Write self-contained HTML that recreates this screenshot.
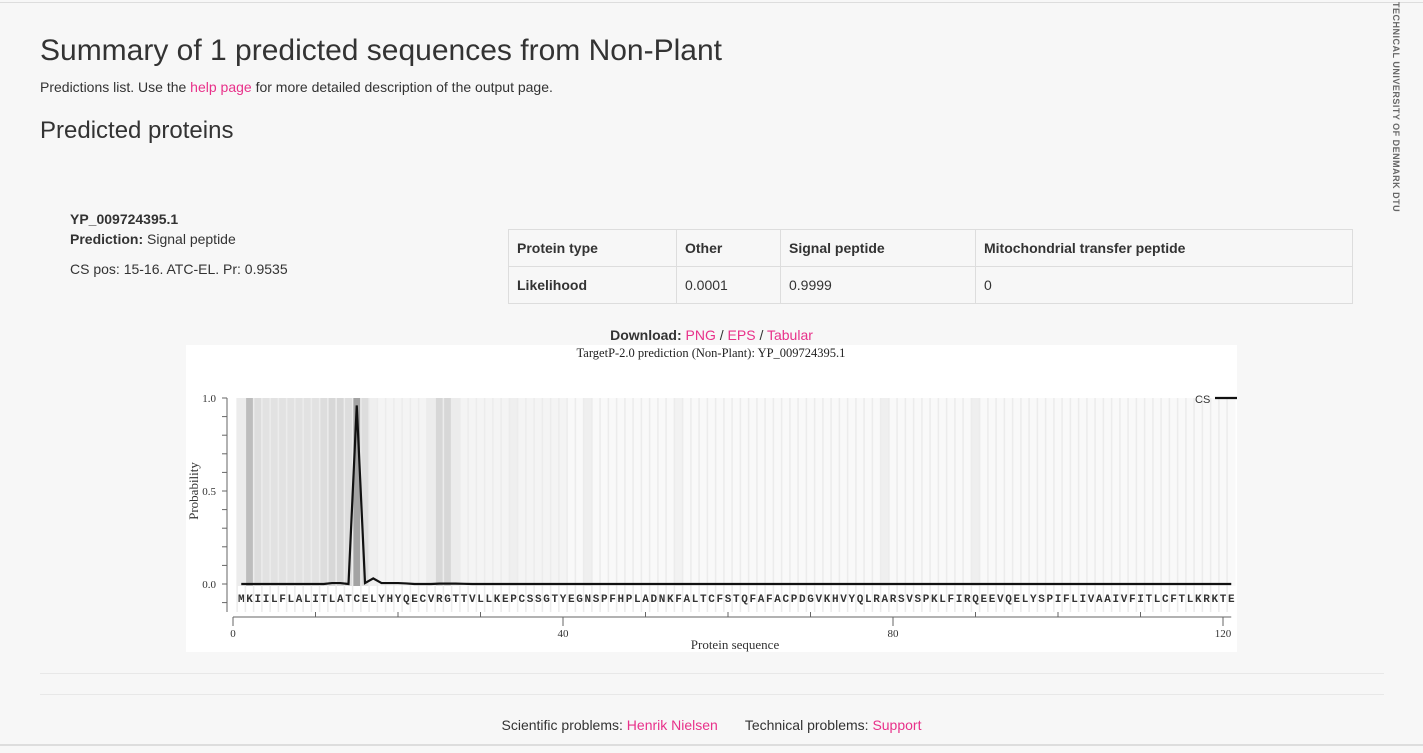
<!DOCTYPE html>
<html><head><meta charset="utf-8"><style>
body{margin:0;width:1423px;height:753px;background:#f7f7f7;font-family:"Liberation Sans",sans-serif;color:#333;position:relative;overflow:hidden}
.abs{position:absolute}
a{color:#e8318a;text-decoration:none}
table{border-collapse:collapse;font-size:14px}
td{border:1px solid #ddd;padding:0 8px;height:36px}
</style></head><body>
<div class="abs" style="left:0;top:2px;width:1423px;height:1px;background:#ddd"></div>
<div class="abs" style="left:40px;top:34px;font-size:30px;color:#333">Summary of 1 predicted sequences from Non-Plant</div>
<div class="abs" style="left:40px;top:79px;font-size:14px">Predictions list. Use the <a href="#">help page</a> for more detailed description of the output page.</div>
<div class="abs" style="left:40px;top:117px;font-size:24px">Predicted proteins</div>
<div class="abs" style="left:70px;top:211px;font-size:14px;font-weight:bold">YP_009724395.1</div>
<div class="abs" style="left:70px;top:231px;font-size:14px"><b>Prediction:</b> Signal peptide</div>
<div class="abs" style="left:70px;top:261px;font-size:14px">CS pos: 15-16. ATC-EL. Pr: 0.9535</div>
<table class="abs" style="left:508px;top:229px;width:845px">
<tr><td style="width:151px;font-weight:bold">Protein type</td><td style="width:87px;font-weight:bold">Other</td><td style="width:178px;font-weight:bold">Signal peptide</td><td style="font-weight:bold">Mitochondrial transfer peptide</td></tr>
<tr><td style="font-weight:bold">Likelihood</td><td>0.0001</td><td>0.9999</td><td>0</td></tr>
</table>
<div class="abs" style="left:0;width:1423px;top:327px;text-align:center;font-size:14px"><b>Download:</b> <a href="#">PNG</a> / <a href="#">EPS</a> / <a href="#">Tabular</a></div>
<svg class="abs" style="left:0;top:0" width="1423" height="753" id="chart">
<rect x="186" y="345" width="1051" height="307" fill="#fff"/>
</svg>
<div class="abs" style="left:40px;top:673px;width:1344px;height:1px;background:#e8e8e8"></div>
<div class="abs" style="left:40px;top:694px;width:1344px;height:1px;background:#e8e8e8"></div>
<div class="abs" style="left:0;width:1423px;top:717px;text-align:center;font-size:14px">Scientific problems: <a href="#">Henrik Nielsen</a> &nbsp; &nbsp; &nbsp; Technical problems: <a href="#">Support</a></div>
<div class="abs" style="left:0;top:744px;width:1423px;height:2px;background:#ddd"></div>
<div class="abs" style="left:1391px;top:2px;font-size:9px;font-weight:bold;color:#666;writing-mode:vertical-rl;white-space:nowrap;letter-spacing:0.5px">TECHNICAL UNIVERSITY OF DENMARK DTU</div>
<script>
const sequence="MKIILFLALITLATCELYHYQECVRGTTVLLKEPCSSGTYEGNSPFHPLADNKFALTCFSTQFAFACPDGVKHVYQLRARSVSPKLFIRQEEVQELYSPIFLIVAAIVFITLCFTLKRKTE";
const csProb=[0,0,0,0,0,0,0,0,0,0,0,0.005,0.005,0,0.96,0.005,0.03,0.005,0.005,0.005,0.003,0,0,0,0.002,0.002,0.002,0.001];
const shade=[0.15,0.6,0.3,0.25,0.25,0.25,0.25,0.25,0.25,0.25,0.3,0.35,0.35,0.3,0.85,0.3,0.12,0.08,0.08,0.08,0.08,0.08,0.08,0.15,0.35,0.35,0.15,0.08,0.08,0.08,0.08,0.08,0.08,0.12,0.08,0.08,0.08,0.08,0.08,0.08];
const shadeExtra={43:0.12,54:0.1,79:0.12,90:0.12};
const xTicks=[0,40,80,120];
const yTicks=[0,0.5,1.0];
const svg=document.getElementById('chart');const NS='http://www.w3.org/2000/svg';
const X=v=>233+8.25*v, Y=p=>584-186*p;
function el(t,a,txt){const e=document.createElementNS(NS,t);for(const k in a)e.setAttribute(k,a[k]);if(txt!==undefined)e.textContent=txt;svg.appendChild(e);return e;}
const n=sequence.length;
for(let i=1;i<=n;i++){
 let s=i<=shade.length?shade[i-1]:0.03;if(shadeExtra[i])s=shadeExtra[i];
 const g=Math.round(252-105*s);
 const r=el('rect',{x:X(i-0.5),y:Y(1),width:8.25,height:Y(0)-Y(1)+2,fill:`rgb(${g},${g},${g})`});
 
 
 const l=el('line',{x1:X(i-0.5),x2:X(i-0.5),y1:Y(1),y2:Y(0)+28,stroke:'#ececec','stroke-width':1.5});
 
 
 const t=el('text',{x:X(i),y:602,'text-anchor':'middle','font-family':'Liberation Mono, monospace','font-size':11,fill:'#333','font-weight':'bold'},sequence[i-1]);
 
 
}
let pts=[];for(let i=1;i<=n;i++){pts.push(X(i)+','+Y(i<=csProb.length?csProb[i-1]:0));}
const line=el('polyline',{points:pts.join(' '),fill:'none',stroke:'#111','stroke-width':2.2});


const ya=el('line',{x1:227,x2:227,y1:Y(1),y2:612,stroke:'#666'});


for(let k=-1;k<=10;k++){const p=k/10;const tk=el('line',{x1:222,x2:227,y1:Y(p),y2:Y(p),stroke:'#666'});}
yTicks.forEach(p=>{const t=el('text',{x:216,y:Y(p)+4,'text-anchor':'end','font-family':'Liberation Serif, serif','font-size':11,fill:'#333'},p.toFixed(1));});
const yt=el('text',{x:0,y:0,transform:'translate(198,491) rotate(-90)','text-anchor':'middle','font-family':'Liberation Serif, serif','font-size':13,fill:'#333'},'Probability');


const xa=el('line',{x1:X(0),x2:X(121),y1:617,y2:617,stroke:'#666'});


for(let v=0;v<=120;v+=10){const maj=v%40===0;const tk=el('line',{x1:X(v),x2:X(v),y1:maj?617:612,y2:maj?626:617,stroke:'#666'});}
xTicks.forEach(v=>{const t=el('text',{x:X(v),y:637,'text-anchor':'middle','font-family':'Liberation Serif, serif','font-size':11,fill:'#333'},v);});
const xt=el('text',{x:735,y:649,'text-anchor':'middle','font-family':'Liberation Serif, serif','font-size':13,fill:'#333'},'Protein sequence');


const ti=el('text',{x:711,y:357,'text-anchor':'middle','font-family':'Liberation Serif, serif','font-size':12.5,fill:'#222'},'TargetP-2.0 prediction (Non-Plant):  YP_009724395.1');


const lg=el('text',{x:1195,y:403,'font-family':'Liberation Sans, sans-serif','font-size':11,fill:'#333'},'CS');


const ll=el('line',{x1:1215,x2:1237,y1:398,y2:398,stroke:'#111','stroke-width':2.2});


</script>
</body></html>
